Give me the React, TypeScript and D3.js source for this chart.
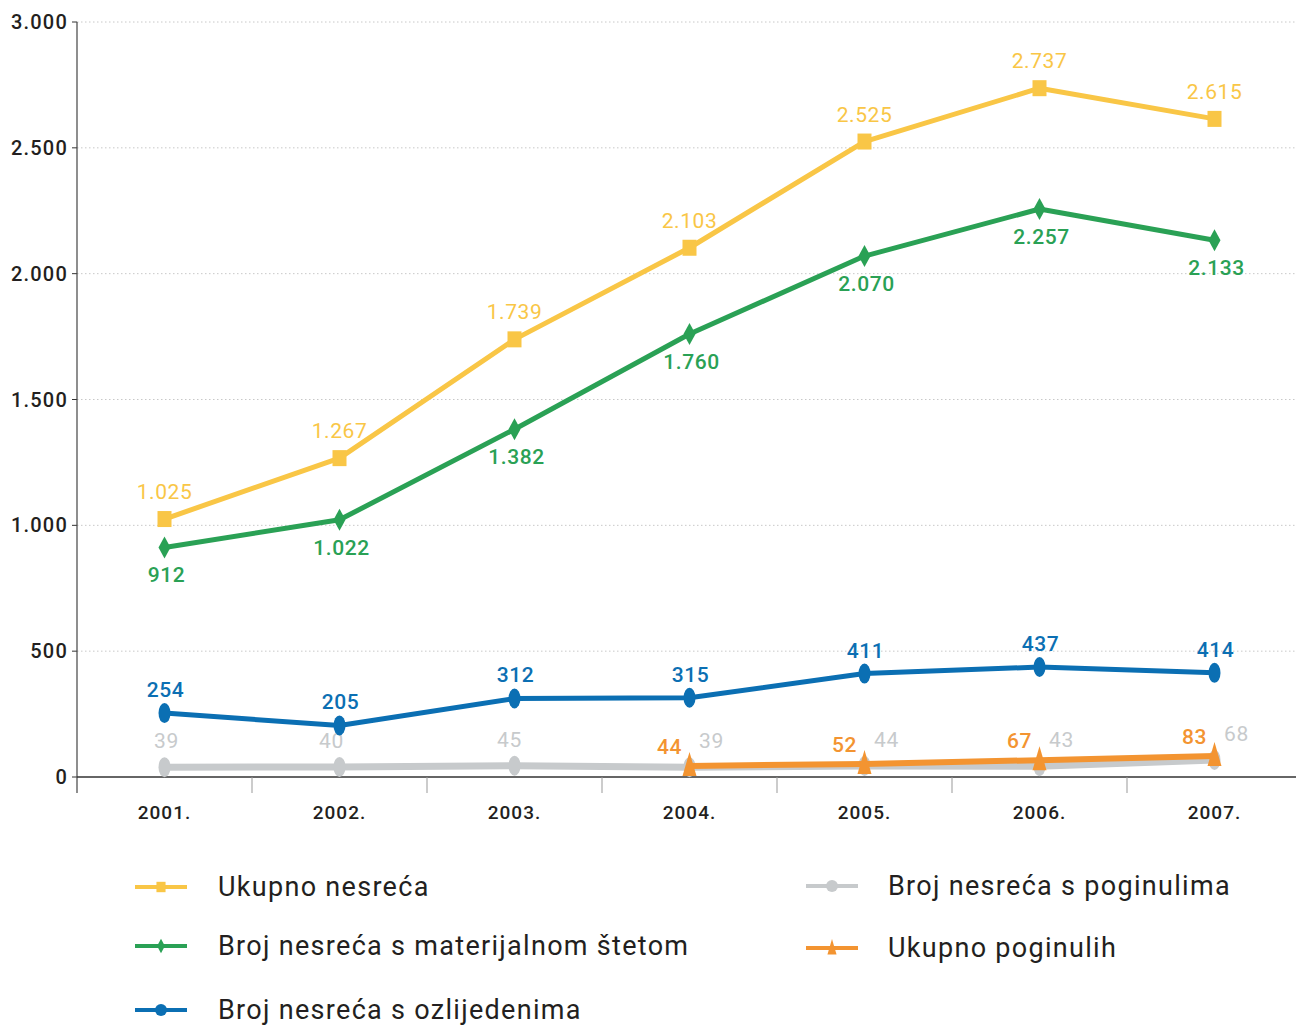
import React from 'react';
import * as d3 from 'd3';

const years = ['2001.', '2002.', '2003.', '2004.', '2005.', '2006.', '2007.'];
const ukupnoNesreca = [1025, 1267, 1739, 2103, 2525, 2737, 2615];
const materijalnaSteta = [912, 1022, 1382, 1760, 2070, 2257, 2133];
const ozlijedeni = [254, 205, 312, 315, 411, 437, 414];
const poginuli = [39, 40, 45, 39, 44, 43, 68];
const ukupnoPoginulih: (number | null)[] = [null, null, null, 44, 52, 67, 83];
const yTicks = [0, 500, 1000, 1500, 2000, 2500, 3000];

const W = 1296;
const H = 1026;
const FONT = 'Roboto, "DejaVu Sans", sans-serif';

const locale = d3.formatLocale({ decimal: ',', thousands: '.', grouping: [3], currency: ['', ''] });
const fmt = locale.format(',d');

type Marker = 'square' | 'diamond' | 'ellipse' | 'triangle';

interface Series {
  name: string;
  values: (number | null)[];
  color: string;
  width: number;
  marker: Marker;
  dx: (i: number) => number;
  dy: number;
  weight: number;
}

const series: Series[] = [
  { name: 'Broj nesreća s poginulima', values: poginuli, color: '#c7cacc', width: 7, marker: 'ellipse', dx: i => (i >= 3 ? 22 : i === 1 ? -8 : i === 2 ? -5 : 2), dy: -19, weight: 400 },
  { name: 'Ukupno poginulih', values: ukupnoPoginulih, color: '#f39431', width: 6, marker: 'triangle', dx: () => -20, dy: -12, weight: 500 },
  { name: 'Broj nesreća s ozlijedenima', values: ozlijedeni, color: '#0b6fb3', width: 5, marker: 'ellipse', dx: () => 1, dy: -16, weight: 500 },
  { name: 'Broj nesreća s materijalnom štetom', values: materijalnaSteta, color: '#2aa155', width: 5, marker: 'diamond', dx: () => 2, dy: 35, weight: 500 },
  { name: 'Ukupno nesreća', values: ukupnoNesreca, color: '#f9c646', width: 5, marker: 'square', dx: () => 0, dy: -20, weight: 400 },
];

const legendLeft = ['Ukupno nesreća', 'Broj nesreća s materijalnom štetom', 'Broj nesreća s ozlijedenima'];
const legendRight = ['Broj nesreća s poginulima', 'Ukupno poginulih'];

function MarkerShape({ type, x, y, color, small }: { type: Marker; x: number; y: number; color: string; small?: boolean }) {
  const s = small ? 0.65 : 1;
  if (type === 'square') return <rect x={x - 7 * s} y={y - 8 * s} width={14 * s} height={16 * s} fill={color} />;
  if (type === 'diamond')
    return <path d={`M${x},${y - 11 * s}L${x + 6 * s},${y}L${x},${y + 11 * s}L${x - 6 * s},${y}Z`} fill={color} />;
  if (type === 'ellipse') return <ellipse cx={x} cy={y} rx={6} ry={small ? 6 : 10} fill={color} />;
  return <path d={`M${x},${y - 14 * s}L${x + 7 * s},${y + 10 * s}L${x - 7 * s},${y + 10 * s}Z`} fill={color} />;
}

export default function App() {
  const x = d3.scaleBand<string>().domain(years).range([77, 1302]);
  const y = d3.scaleLinear().domain([0, 3000]).range([777, 22]);
  const cx = (i: number) => (x(years[i]) as number) + x.bandwidth() / 2;

  const line = d3
    .line<number | null>()
    .defined(d => d !== null)
    .x((_, i) => cx(i))
    .y(d => y(d as number));

  const byName = (n: string) => series.find(s => s.name === n)!;

  const legendItem = (n: string, lx: number, tx: number, ly: number) => {
    const s = byName(n);
    return (
      <g key={n}>
        <line x1={lx} x2={lx + 52} y1={ly} y2={ly} stroke={s.color} strokeWidth={4} />
        <MarkerShape type={s.marker} x={lx + 26} y={ly} color={s.color} small />
        <text x={tx} y={ly} dy="0.35em" fontSize={27} letterSpacing={1.3} fontWeight={400} fill="#231f20">
          {n}
        </text>
      </g>
    );
  };

  return (
    <svg width={W} height={H} style={{ position: 'absolute', left: 0, top: 0, background: '#fff' }} fontFamily={FONT}>
      {/* grid */}
      {yTicks.filter(t => t > 0).map(t => (
        <line key={t} x1={77} x2={W} y1={y(t)} y2={y(t)} stroke="#c8c8c8" strokeDasharray="1.5 2.5" strokeWidth={1} />
      ))}
      {yTicks.map(t => (
        <g key={t}>
          <line x1={72} x2={77} y1={y(t)} y2={y(t)} stroke="#333" />
          <text x={68} y={y(t)} dy="0.35em" textAnchor="end" fontSize={20} letterSpacing={1.2} fontWeight={500} fill="#231f20">
            {fmt(t)}
          </text>
        </g>
      ))}
      <line x1={77} x2={77} y1={y(3000)} y2={793} stroke="#444" strokeWidth={1.2} />
      <line x1={77} x2={W} y1={y(0)} y2={y(0)} stroke="#333" strokeWidth={1.3} />
      {years.slice(1).map(yr => (
        <line key={yr} x1={x(yr)} x2={x(yr)} y1={y(0)} y2={793} stroke="#999" strokeWidth={1} />
      ))}
      {years.map((yr, i) => (
        <text key={yr} x={cx(i)} y={819} textAnchor="middle" fontSize={19} letterSpacing={1} fontWeight={500} fill="#231f20">
          {yr}
        </text>
      ))}

      {series.map(s => (
        <g key={s.name}>
          <path d={line(s.values) || ''} fill="none" stroke={s.color} strokeWidth={s.width} strokeLinejoin="round" />
          {s.values.map((v, i) =>
            v === null ? null : <MarkerShape key={i} type={s.marker} x={cx(i)} y={y(v)} color={s.color} />
          )}
          {s.values.map((v, i) =>
            v === null ? null : (
              <text key={'t' + i} x={cx(i) + s.dx(i)} y={y(v) + s.dy} textAnchor="middle" fontSize={21} letterSpacing={0.6} fontWeight={s.weight} fill={s.color}>
                {fmt(v)}
              </text>
            )
          )}
        </g>
      ))}

      {/* legend */}
      {legendLeft.map((n, i) => legendItem(n, 135, 218, [887, 946, 1010][i]))}
      {legendRight.map((n, i) => legendItem(n, 806, 888, [886, 948][i]))}
    </svg>
  );
}
